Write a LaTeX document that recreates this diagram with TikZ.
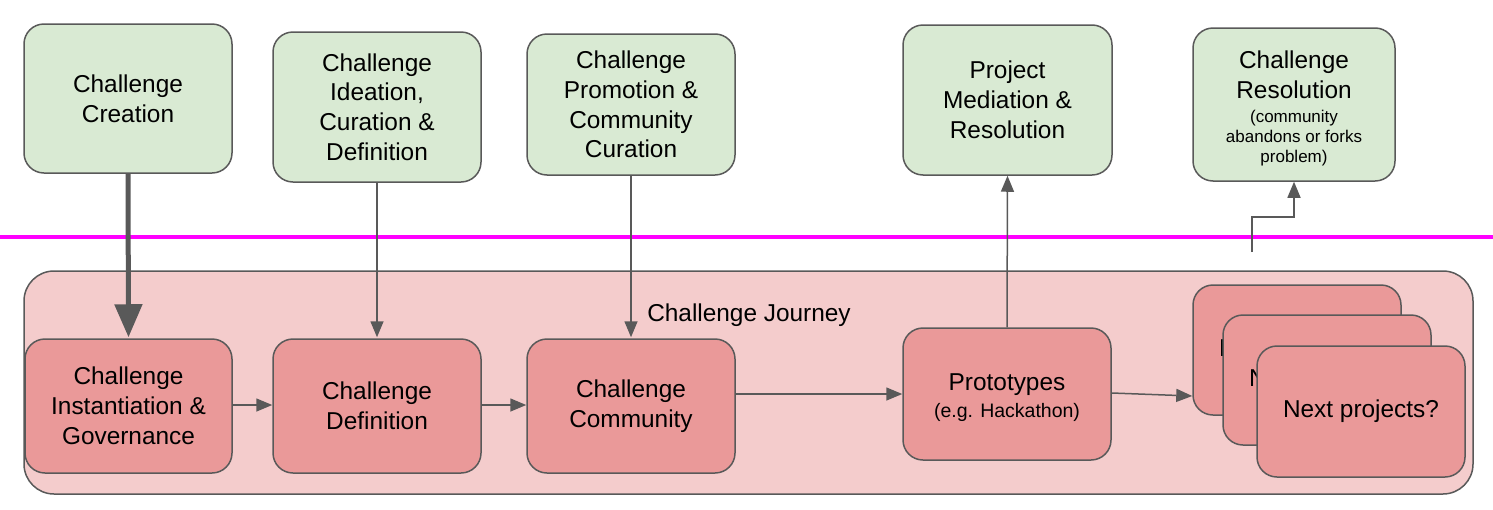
\documentclass[tikz,border=0pt]{standalone}
\usepackage{fontspec}
\setmainfont{Liberation Sans}
\usetikzlibrary{arrows.meta}
\definecolor{boxgreen}{HTML}{D9EAD3}
\definecolor{boxred}{HTML}{EA9999}
\definecolor{journeybg}{HTML}{F4CCCC}
\definecolor{edge}{HTML}{595959}
\definecolor{divider}{HTML}{FF00FF}
\newcommand{\smalltxt}{\fontsize{17}{20}\selectfont}
\newcommand{\midtxt}{\fontsize{19.5}{23}\selectfont}
\tikzset{
  card/.style={draw=edge, line width=1.5pt, rounded corners=20pt, inner sep=0pt,
    align=center, font=\fontsize{24.4}{29.8}\selectfont, text=black},
  greenbox/.style={card, fill=boxgreen, minimum width=208pt, minimum height=149pt},
  redbox/.style={card, fill=boxred, minimum width=208pt, minimum height=134pt},
  boxtext/.style={inner sep=0pt, align=center, font=\fontsize{24.4}{29.5}\selectfont, text=black},
  conn/.style={draw=edge, line width=1.5pt, -{Triangle[length=16pt,width=13pt]}},
  thickconn/.style={draw=edge, line width=5pt, -{Triangle[length=33pt,width=27pt]}},
}
\begin{document}
\begin{tikzpicture}[x=1pt,y=-1pt]
\useasboundingbox (0,0) rectangle (1493,509);
% divider
\draw[divider, line width=3.5pt] (0,237) -- (1493,237);
% container
\node[draw=edge, line width=1.5pt, fill=journeybg, rounded corners=30pt,
  minimum width=1449pt, minimum height=223pt, inner sep=0pt] (journey) at (748.5,382.5) {};
\node[boxtext] (journeylabel) at (749,315) {Challenge Journey};
% top boxes
\node[greenbox] (creation) at (128,98.5) {Challenge\\Creation};
\node[greenbox, minimum height=150pt] (ideation) at (377,107) {Challenge\\Ideation,\\Curation \&\\Definition};
\node[greenbox, minimum height=141pt] (promotion) at (631,104.5) {Challenge\\Promotion \&\\Community\\Curation};
\node[greenbox, minimum width=209pt, minimum height=150pt] (mediation) at (1007.5,100) {Project\\Mediation \&\\Resolution};
\node[greenbox, minimum width=202pt, minimum height=153pt] (resolution) at (1294,104.5) {};
\node[boxtext] (resolutiontext) at (1294,108.5)
  {Challenge\\Resolution\\[-5pt]{\smalltxt (community}\\[-9.7pt]{\smalltxt abandons or forks}\\[-9.7pt]{\smalltxt problem)}};
% bottom boxes
\node[redbox, minimum width=207pt] (inst) at (128.5,406) {Challenge\\Instantiation \&\\Governance};
\node[redbox] (def) at (377,406) {Challenge\\Definition};
\node[redbox] (comm) at (631,406) {Challenge\\Community};
\node[redbox, minimum height=132pt] (proto) at (1007,394) {};
\node[boxtext] (prototext) at (1007,397.5) {Prototypes\\[-3pt]{\midtxt (e.g. Hackathon)}};
\node[redbox, minimum height=130pt] (next1) at (1297,350) {Next projects?};
\node[redbox, minimum height=130pt] (next2) at (1327,380) {Next projects?};
\node[redbox, minimum height=131pt] (next3) at (1361,411.5) {Next projects?};
% connectors
\draw[thickconn] (creation.south) -- ([yshift=1pt]inst.north);
\draw[conn] (ideation.south) -- ([yshift=1pt]def.north);
\draw[conn] (promotion.south) -- ([yshift=1pt]comm.north);
\draw[conn] (proto.north) -- (mediation.south);
\draw[conn] ([yshift=1pt]inst.east) -- ([yshift=1pt]def.west);
\draw[conn] ([yshift=1pt]def.east) -- ([yshift=1pt]comm.west);
\draw[conn] (comm.east |- proto.west) -- (proto.west);
\draw[conn] ([yshift=1pt]proto.east) -- ([yshift=-46pt]next1.west);
\coordinate (resstart) at (1252,252);
\draw[conn] (resstart) -- (1252,217) -| (resolution.south);
\end{tikzpicture}
\end{document}
